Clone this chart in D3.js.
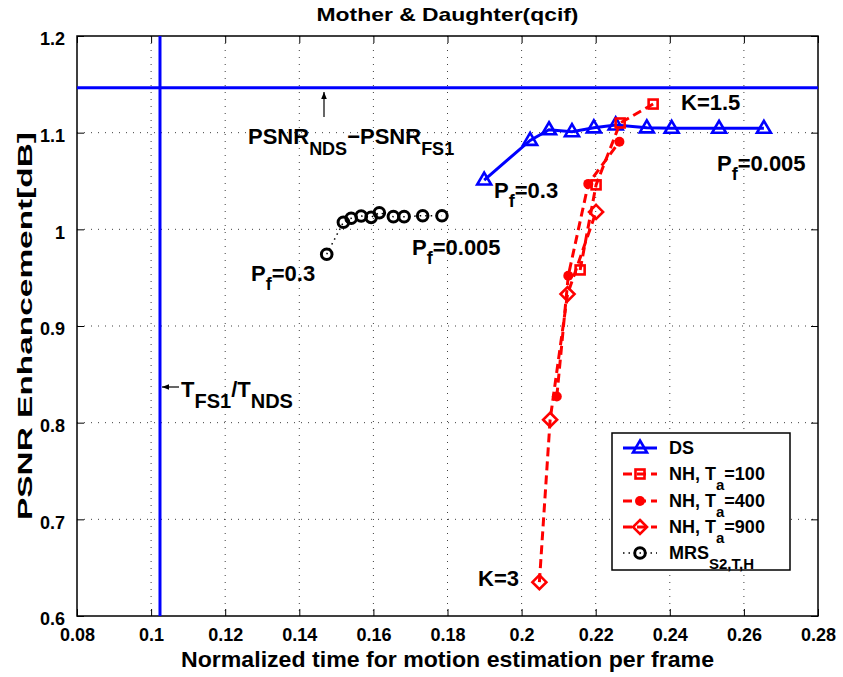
<!DOCTYPE html>
<html><head><meta charset="utf-8">
<script src="https://cdn.jsdelivr.net/npm/d3@7"></script>
<style>
html,body{margin:0;padding:0;background:#fff;}
text{font-family:"Liberation Sans",Arial,Helvetica,sans-serif;font-weight:bold;fill:#000;}
</style></head>
<body>
<svg id="c" width="843" height="677"></svg>
<script>
// ---- data ----
const xTicks = [0.08,0.10,0.12,0.14,0.16,0.18,0.20,0.22,0.24,0.26,0.28];
const xTickLabels = ["0.08","0.1","0.12","0.14","0.16","0.18","0.2","0.22","0.24","0.26","0.28"];
const yTicks = [0.6,0.7,0.8,0.9,1.0,1.1,1.2];
const yTickLabels = ["0.6","0.7","0.8","0.9","1","1.1","1.2"];

const dsX = [0.1899,0.2023,0.2074,0.2136,0.2195,0.2254,0.2338,0.2405,0.2533,0.2654];
const dsY = [1.051,1.092,1.103,1.101,1.105,1.108,1.105,1.1045,1.1045,1.1045];

const nh100X = [0.2158,0.2201,0.2266,0.2355];
const nh100Y = [0.958,1.046,1.110,1.1296];

const nh400X = [0.2095,0.2126,0.2180,0.2264];
const nh400Y = [0.827,0.952,1.047,1.0906];

const nh900X = [0.2048,0.2077,0.2124,0.2201];
const nh900Y = [0.635,0.803,0.933,1.018];

const mrsX = [0.1474,0.1519,0.1540,0.1567,0.1594,0.1616,0.1654,0.1683,0.1733,0.1785];
const mrsY = [0.9742,1.0073,1.0114,1.0138,1.0124,1.0172,1.0131,1.0131,1.0141,1.0141];

const refPSNR = 1.1465;   // PSNR_NDS - PSNR_FS1
const refTime = 0.1024;   // T_FS1 / T_NDS

// ---- layout ----
const L=77, R=818, T=36, B=616;
const svg = d3.select("#c");
const x = d3.scaleLinear().domain([0.08,0.28]).range([L,R]);
const y = d3.scaleLinear().domain([0.6,1.2]).range([B,T]);
const zip = (a,b)=>a.map((v,i)=>[v,b[i]]);

// grid
const g = svg.append("g");
g.selectAll(".gx").data(xTicks.slice(1,-1)).enter().append("line")
  .attr("x1",d=>x(d)).attr("x2",d=>x(d)).attr("y1",T).attr("y2",B)
  .attr("stroke","#000").attr("stroke-width",1).attr("stroke-dasharray","1,6").attr("opacity",0.75);
g.selectAll(".gy").data(yTicks.slice(1,-1)).enter().append("line")
  .attr("y1",d=>y(d)).attr("y2",d=>y(d)).attr("x1",L).attr("x2",R)
  .attr("stroke","#000").attr("stroke-width",1).attr("stroke-dasharray","1,6").attr("opacity",0.75);

// axes
const ax = svg.append("g");
const xb = d3.axisBottom(x).tickValues(xTicks).tickFormat((d,i)=>xTickLabels[i]).tickSizeInner(-7).tickSizeOuter(0).tickPadding(12);
const xt = d3.axisTop(x).tickValues(xTicks).tickFormat("").tickSizeInner(-7).tickSizeOuter(0);
const yl = d3.axisLeft(y).tickValues(yTicks).tickFormat((d,i)=>yTickLabels[i]).tickSizeInner(-7).tickSizeOuter(0).tickPadding(12);
const yr = d3.axisRight(y).tickValues(yTicks).tickFormat("").tickSizeInner(-7).tickSizeOuter(0);
function style(sel){
  sel.select(".domain").remove();
  sel.selectAll("line").attr("stroke","#000").attr("stroke-width",1);
  sel.selectAll("text").attr("font-size",18).attr("font-weight","bold").attr("fill","#000")
    .attr("font-family","Liberation Sans, Arial, sans-serif");
}
ax.append("g").attr("transform",`translate(0,${B})`).call(xb).call(style);
ax.append("g").attr("transform",`translate(0,${T})`).call(xt).call(style);
ax.append("g").attr("transform",`translate(${L},3)`).call(yl).call(style).selectAll(".tick line").attr("transform","translate(0,-3)");
ax.append("g").attr("transform",`translate(${R},0)`).call(yr).call(style);
svg.append("rect").attr("x",L).attr("y",T).attr("width",R-L).attr("height",B-T)
  .attr("fill","none").attr("stroke","#000").attr("stroke-width",1.5);

// clip
svg.append("clipPath").attr("id","pc").append("rect").attr("x",L).attr("y",T).attr("width",R-L).attr("height",B-T);
const plot = svg.append("g").attr("clip-path","url(#pc)");

const line = d3.line().x(d=>x(d[0])).y(d=>y(d[1]));

// markers
const triPath = "M0,-7.5L7,4.5L-7,4.5Z";
function drawSeries(xs,ys,color,dash,width,marker){
  const pts = zip(xs,ys);
  plot.append("path").datum(pts).attr("d",line).attr("fill","none")
    .attr("stroke",color).attr("stroke-width",width).attr("stroke-dasharray",dash);
  const m = plot.append("g");
  pts.forEach(p=>addMarker(m,x(p[0]),y(p[1]),marker,color));
}
function addMarker(sel,cx,cy,marker,color){
  if(marker==="tri") sel.append("path").attr("d",triPath).attr("transform",`translate(${cx},${cy})`)
      .attr("fill","none").attr("stroke",color).attr("stroke-width",2.6).attr("stroke-linejoin","miter");
  else if(marker==="sq") sel.append("rect").attr("x",cx-4.5).attr("y",cy-4.5).attr("width",9).attr("height",9)
      .attr("fill","none").attr("stroke",color).attr("stroke-width",2.6);
  else if(marker==="dot") sel.append("circle").attr("cx",cx).attr("cy",cy).attr("r",5).attr("fill",color);
  else if(marker==="dia") sel.append("path").attr("d","M0,-7L7,0L0,7L-7,0Z").attr("transform",`translate(${cx},${cy})`)
      .attr("fill","none").attr("stroke",color).attr("stroke-width",2.6);
  else if(marker==="circ") sel.append("circle").attr("cx",cx).attr("cy",cy).attr("r",5.3)
      .attr("fill","none").attr("stroke",color).attr("stroke-width",3);
}
drawSeries(dsX,dsY,"#0000ff",null,3,"tri");
drawSeries(nh100X,nh100Y,"#ff0000","9,5",3,"sq");
drawSeries(nh400X,nh400Y,"#ff0000","9,5",3,"dot");
drawSeries(nh900X,nh900Y,"#ff0000","9,5",3,"dia");
drawSeries(mrsX,mrsY,"#000000","1.5,4",1.5,"circ");

// reference lines
plot.append("line").attr("x1",L).attr("x2",R).attr("y1",y(refPSNR)).attr("y2",y(refPSNR))
  .attr("stroke","#0000ff").attr("stroke-width",3);
plot.append("line").attr("x1",x(refTime)).attr("x2",x(refTime)).attr("y1",T).attr("y2",B)
  .attr("stroke","#0000ff").attr("stroke-width",3);

// arrows
svg.append("defs").append("marker").attr("id","ah").attr("viewBox","0 0 10 10")
  .attr("refX",10).attr("refY",5).attr("markerWidth",7).attr("markerHeight",7).attr("orient","auto")
  .attr("markerUnits","userSpaceOnUse")
  .append("path").attr("d","M0,1L10,5L0,9Z").attr("fill","#000");
svg.append("line").attr("x1",324).attr("y1",117).attr("x2",324).attr("y2",92)
  .attr("stroke","#000").attr("stroke-width",1.2).attr("marker-end","url(#ah)");
svg.append("line").attr("x1",179).attr("y1",387).attr("x2",162).attr("y2",387)
  .attr("stroke","#000").attr("stroke-width",1.2).attr("marker-end","url(#ah)");

// annotations with subscripts
function subText(xp,yp,parts,size,subSize,shift){
  const t = svg.append("text").attr("x",xp).attr("y",yp).attr("font-size",size);
  let cur=0;
  parts.forEach(p=>{
    const isSub = p.sub;
    const dy = (isSub? shift:0) - cur;
    cur = isSub? shift:0;
    t.append("tspan").attr("dy",dy).attr("font-size",isSub?subSize:size).text(p.t);
  });
  return t;
}
subText(248,144,[{t:"PSNR"},{t:"NDS",sub:1},{t:"−PSNR"},{t:"FS1",sub:1}],22,18,11);
subText(181,397,[{t:"T"},{t:"FS1",sub:1},{t:"/T"},{t:"NDS",sub:1}],22,20,11);
subText(681,110,[{t:"K=1.5"}],22,18,0);
subText(478,586,[{t:"K=3"}],22,18,0);
subText(717,171,[{t:"P"},{t:"f",sub:1},{t:"=0.005"}],22,18,9);
subText(494,198,[{t:"P"},{t:"f",sub:1},{t:"=0.3"}],22,18,9);
subText(251,281,[{t:"P"},{t:"f",sub:1},{t:"=0.3"}],22,18,9);
subText(412,255,[{t:"P"},{t:"f",sub:1},{t:"=0.005"}],22,18,9);

// title and axis labels
svg.append("text").attr("x",(L+R)/2).attr("y",21).attr("text-anchor","middle").attr("font-size",19)
  .attr("textLength",262).attr("lengthAdjust","spacingAndGlyphs").text("Mother & Daughter(qcif)");
svg.append("text").attr("x",(L+R)/2).attr("y",667).attr("text-anchor","middle").attr("font-size",22)
  .attr("textLength",533).attr("lengthAdjust","spacingAndGlyphs").text("Normalized time for motion estimation per frame");
svg.append("text").attr("transform",`translate(32,${(T+B)/2}) rotate(-90)`).attr("text-anchor","middle").attr("font-size",21)
  .attr("textLength",388).attr("lengthAdjust","spacingAndGlyphs").text("PSNR Enhancement[dB]");

// legend
const lg = svg.append("g");
lg.append("rect").attr("x",612).attr("y",433).attr("width",178).attr("height",137)
  .attr("fill","#fff").attr("stroke","#000").attr("stroke-width",1.5);
const legItems = [
  {parts:[{t:"DS"}],color:"#0000ff",dash:null,w:3,m:"tri"},
  {parts:[{t:"NH, T"},{t:"a",sub:1},{t:"=100"}],color:"#ff0000",dash:"9,5",w:3,m:"sq"},
  {parts:[{t:"NH, T"},{t:"a",sub:1},{t:"=400"}],color:"#ff0000",dash:"9,5",w:3,m:"dot"},
  {parts:[{t:"NH, T"},{t:"a",sub:1},{t:"=900"}],color:"#ff0000",dash:"9,5",w:3,m:"dia"},
  {parts:[{t:"MRS"},{t:"S2,T,H",sub:1}],color:"#000",dash:"1.5,4",w:1.5,m:"circ"}
];
const rowY = [448,474,501,527,553];
legItems.forEach((it,i)=>{
  const yy=rowY[i];
  lg.append("line").attr("x1",623).attr("x2",657).attr("y1",yy).attr("y2",yy)
    .attr("stroke",it.color).attr("stroke-width",it.w).attr("stroke-dasharray",it.dash);
  addMarker(lg,640,yy,it.m,it.color);
  const t = lg.append("text").attr("x",669).attr("y",yy+6).attr("font-size",18);
  let cur=0;
  it.parts.forEach(p=>{
    const sh = p.sub?10:0;
    t.append("tspan").attr("dy",sh-cur).attr("font-size",p.sub?15:18).text(p.t);
    cur=sh;
  });
});
</script>
</body></html>
